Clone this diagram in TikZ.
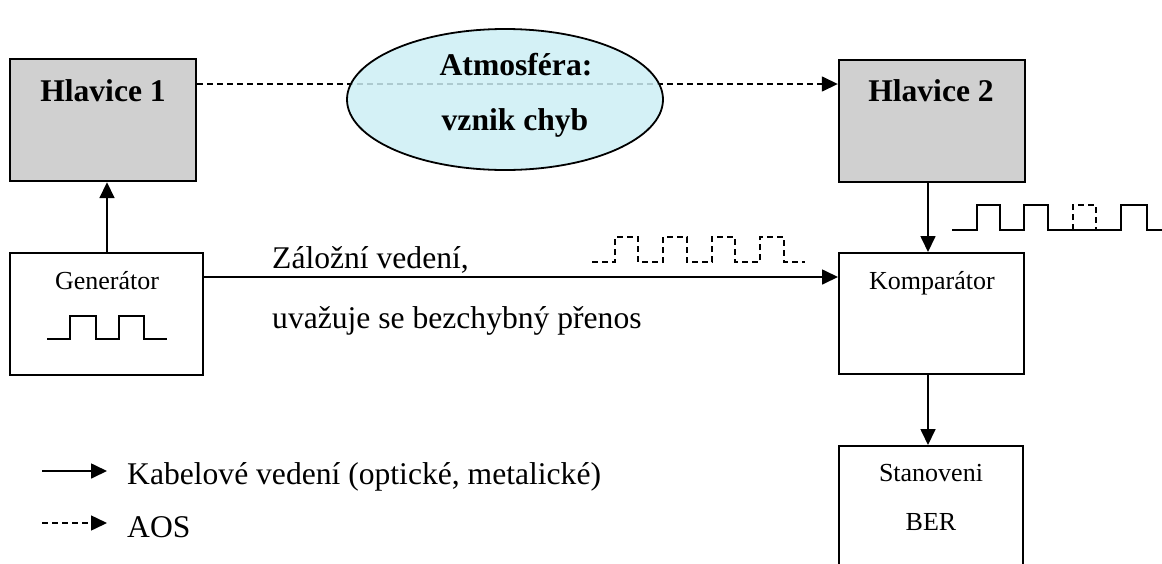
\documentclass[tikz,border=0pt]{standalone}
\usepackage{fontspec}
\setmainfont{Liberation Serif}
\usetikzlibrary{arrows.meta,shapes.geometric}
\definecolor{headfill}{RGB}{208,208,208}
\definecolor{atmfill}{RGB}{204,238,244}
\tikzset{
  big/.style={font=\fontsize{31.6}{38}\selectfont, inner sep=0pt},
  bigb/.style={font=\fontsize{31.6}{38}\selectfont\bfseries, inner sep=0pt},
  small/.style={font=\fontsize{26}{31}\selectfont, inner sep=0pt},
  headbox/.style={draw, line width=2.4pt, fill=headfill, minimum width=186pt, minimum height=122pt, inner sep=0pt},
  plainbox/.style={draw, line width=2pt, fill=white, inner sep=0pt},
  conn/.style={line width=1.7pt, -{Triangle[length=16pt,width=15pt]}},
  aos/.style={line width=1.5pt, dash pattern=on 6pt off 4pt, -{Triangle[length=16pt,width=15pt]}},
  sig/.style={line width=1.7pt},
  dsig/.style={line width=1.5pt, dash pattern=on 6pt off 4pt},
}
\begin{document}
\begin{tikzpicture}[x=1pt,y=-1pt]
\useasboundingbox (0,0) rectangle (1162,563);
\clip (0,0) rectangle (1162,563);
% boxes
\node[headbox] (h1) at (103,120) {};
\node[headbox] (h2) at (932,121) {};
\node[plainbox, minimum width=193pt, minimum height=122pt] (gen) at (106.5,314) {};
\node[plainbox, minimum width=185pt, minimum height=121pt] (komp) at (931.5,313.5) {};
\node[plainbox, minimum width=184pt, minimum height=160pt] (ber) at (931,526) {};
% AOS link (under the ellipse)
\draw[aos] (h1.east |- 0,84) -- (h2.west |- 0,84);
\node[draw, line width=1.8pt, ellipse, fill=atmfill, fill opacity=0.85, minimum width=316pt, minimum height=141pt, inner sep=0pt] (atm) at (505,99.5) {};
% texts
\node[bigb, anchor=base] (t1) at (103,101) {Hlavice 1};
\node[bigb, anchor=base] (t2) at (931,101) {Hlavice 2};
\node[bigb, anchor=base] (ta) at (516,75) {Atmosféra:};
\node[bigb, anchor=base] (tb) at (515,130) {vznik chyb};
\node[small, anchor=base] (tg) at (107,289) {Generátor};
\node[small, anchor=base] (tk) at (932,289) {Komparátor};
\node[small, anchor=base] (ts) at (931,481) {Stanoveni};
\node[small, anchor=base] (tber) at (931,530) {BER};
\node[big, anchor=base west] (tz) at (272,268) {Záložní vedení,};
\node[big, anchor=base west] (tu) at (272,328) {uvažuje se bezchybný přenos};
\node[big, anchor=base west] (lk) at (127,484) {Kabelové vedení (optické, metalické)};
\node[big, anchor=base west] (la) at (127,537) {AOS};
% connectors
\draw[conn] (gen.north -| 107,0) -- (h1.south -| 107,0);
\draw[conn] (h2.south -| 928,0) -- (komp.north -| 928,0);
\draw[conn] (gen.east |- 0,277) -- (komp.west |- 0,277);
\draw[conn] (komp.south -| 928,0) -- (ber.north -| 928,0);
% legend
\coordinate (l1a) at (42,471);
\coordinate (l1b) at (107,471);
\coordinate (l2a) at (42,523);
\coordinate (l2b) at (107,523);
\draw[conn] (l1a) -- (l1b);
\draw[aos] (l2a) -- (l2b);
% generator signal
\draw[sig] (47,339) -- (70,339) -- (70,316) -- (96,316) -- (96,339) -- (119,339) -- (119,316) -- (144,316) -- (144,339) -- (167,339);
% backup line signal (dashed)
\draw[dsig] (592,262) -- (615,262) -- (615,237) -- (638,237) -- (638,262) -- (663,262) -- (663,237) -- (687,237) -- (687,262) -- (712,262) -- (712,237) -- (735,237) -- (735,262) -- (760,262) -- (760,237) -- (784,237) -- (784,262) -- (805,262);
% received signal
\draw[sig] (952,230) -- (977,230) -- (977,205) -- (1000,205) -- (1000,230) -- (1024,230) -- (1024,205) -- (1048,205) -- (1048,230) -- (1121,230) -- (1121,205) -- (1147,205) -- (1147,230) -- (1162,230);
\draw[dsig] (1073,230) -- (1073,205) -- (1096,205) -- (1096,230);
\end{tikzpicture}
\end{document}
